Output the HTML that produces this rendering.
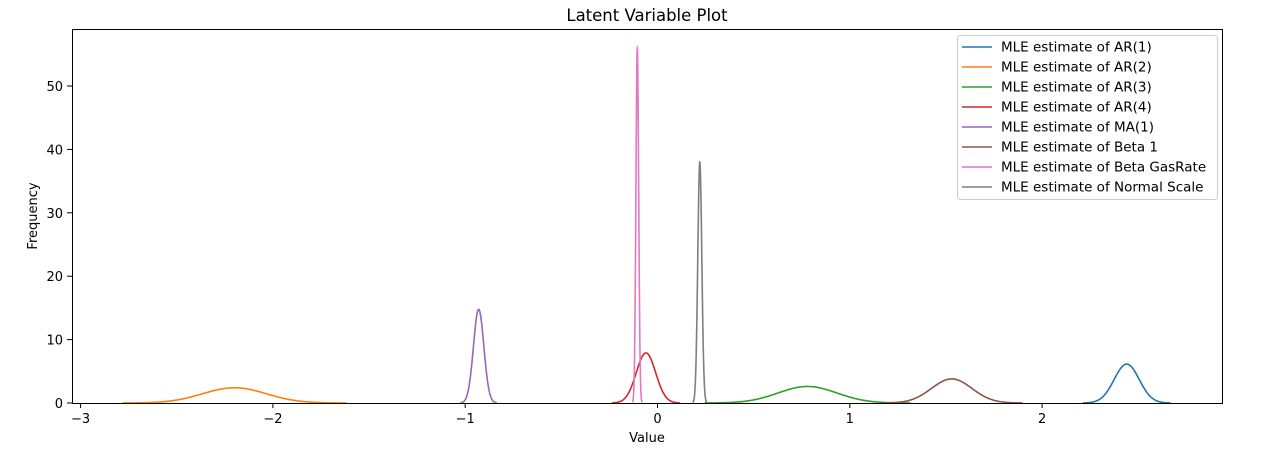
<!DOCTYPE html>
<html><head><meta charset="utf-8"><style>
body{margin:0;background:#fff;}
svg{display:block;font-family:"DejaVu Sans","Liberation Sans",sans-serif;}
</style></head><body>
<svg id="chart" width="1277" height="457">
<text x="647" y="21" font-size="16.5" text-anchor="middle">Latent Variable Plot</text>
<g id="plot"></g>
<rect x="72.5" y="29.5" width="1150" height="374" fill="none" stroke="#000" stroke-width="1"/>
<g id="xticks"></g><g id="yticks"></g>
<text x="647" y="442" font-size="13" text-anchor="middle">Value</text>
<text x="37" y="216" font-size="13" text-anchor="middle" transform="rotate(-90 37 216)">Frequency</text>
<g id="legend"></g>
</svg>
<script>
const seriesNames=["MLE estimate of AR(1)","MLE estimate of AR(2)","MLE estimate of AR(3)","MLE estimate of AR(4)","MLE estimate of MA(1)","MLE estimate of Beta 1","MLE estimate of Beta GasRate","MLE estimate of Normal Scale"];
const seriesMeans=[2.44,-2.2,0.78,-0.06,-0.93,1.53,-0.105,0.22];
const seriesSigmas=[0.065,0.166,0.153,0.0505,0.027,0.105,0.00712,0.0105];
const colors=["#1f77b4","#ff7f0e","#2ca02c","#d62728","#9467bd","#8c564b","#e377c2","#7f7f7f"];
const xTicks=[-3,-2,-1,0,1,2];
const yTicks=[0,10,20,30,40,50];
const NS="http://www.w3.org/2000/svg";
const xs=v=>657.5+v*192.3;
const ys=v=>403-v*6.34;
const plot=document.getElementById('plot');
seriesMeans.forEach((m,i)=>{
  const s=seriesSigmas[i];let d="";
  for(let k=0;k<=300;k++){const v=m-3.5*s+7*s*k/300;
    const f=Math.exp(-0.5*((v-m)/s)**2)/(s*Math.sqrt(2*Math.PI));
    d+=(k?"L":"M")+xs(v).toFixed(2)+","+ys(f).toFixed(2);}
  const p=document.createElementNS(NS,'path');
  p.setAttribute('d',d);p.setAttribute('fill','none');p.setAttribute('stroke',colors[i]);p.setAttribute('stroke-width','1.6');
  
  
  plot.appendChild(p);
});
const xt=document.getElementById('xticks');
xTicks.forEach(t=>{
  const l=document.createElementNS(NS,'line');
  l.setAttribute('x1',xs(t));l.setAttribute('x2',xs(t));l.setAttribute('y1',403);l.setAttribute('y2',408);l.setAttribute('stroke','#000');
  
  
  xt.appendChild(l);
  const tx=document.createElementNS(NS,'text');
  tx.setAttribute('x',xs(t));tx.setAttribute('y',423);tx.setAttribute('font-size','13');tx.setAttribute('text-anchor','middle');
  tx.textContent=t<0?"\u2212"+(-t):String(t);
  
  
  xt.appendChild(tx);
});
const yt=document.getElementById('yticks');
yTicks.forEach(t=>{
  const l=document.createElementNS(NS,'line');
  l.setAttribute('x1',67);l.setAttribute('x2',72);l.setAttribute('y1',ys(t));l.setAttribute('y2',ys(t));l.setAttribute('stroke','#000');
  
  
  yt.appendChild(l);
  const tx=document.createElementNS(NS,'text');
  tx.setAttribute('x',63);tx.setAttribute('y',ys(t)+5);tx.setAttribute('font-size','13');tx.setAttribute('text-anchor','end');
  tx.textContent=t;
  
  
  yt.appendChild(tx);
});
const lg=document.getElementById('legend');
const box=document.createElementNS(NS,'rect');
box.setAttribute('x',957.5);box.setAttribute('y',35.5);box.setAttribute('width',260);box.setAttribute('height',164);box.setAttribute('rx',3);
box.setAttribute('fill','#fff');box.setAttribute('fill-opacity','0.8');box.setAttribute('stroke','#ccc');


lg.appendChild(box);
seriesNames.forEach((n,i)=>{
  const y=47+i*20;
  const l=document.createElementNS(NS,'line');
  l.setAttribute('x1',962);l.setAttribute('x2',992);l.setAttribute('y1',y);l.setAttribute('y2',y);l.setAttribute('stroke',colors[i]);l.setAttribute('stroke-width','1.6');
  
  
  lg.appendChild(l);
  const tx=document.createElementNS(NS,'text');
  tx.setAttribute('x',1001);tx.setAttribute('y',y+4.5);tx.setAttribute('font-size','13.5');tx.textContent=n;
  
  
  lg.appendChild(tx);
});
</script>
</body></html>
